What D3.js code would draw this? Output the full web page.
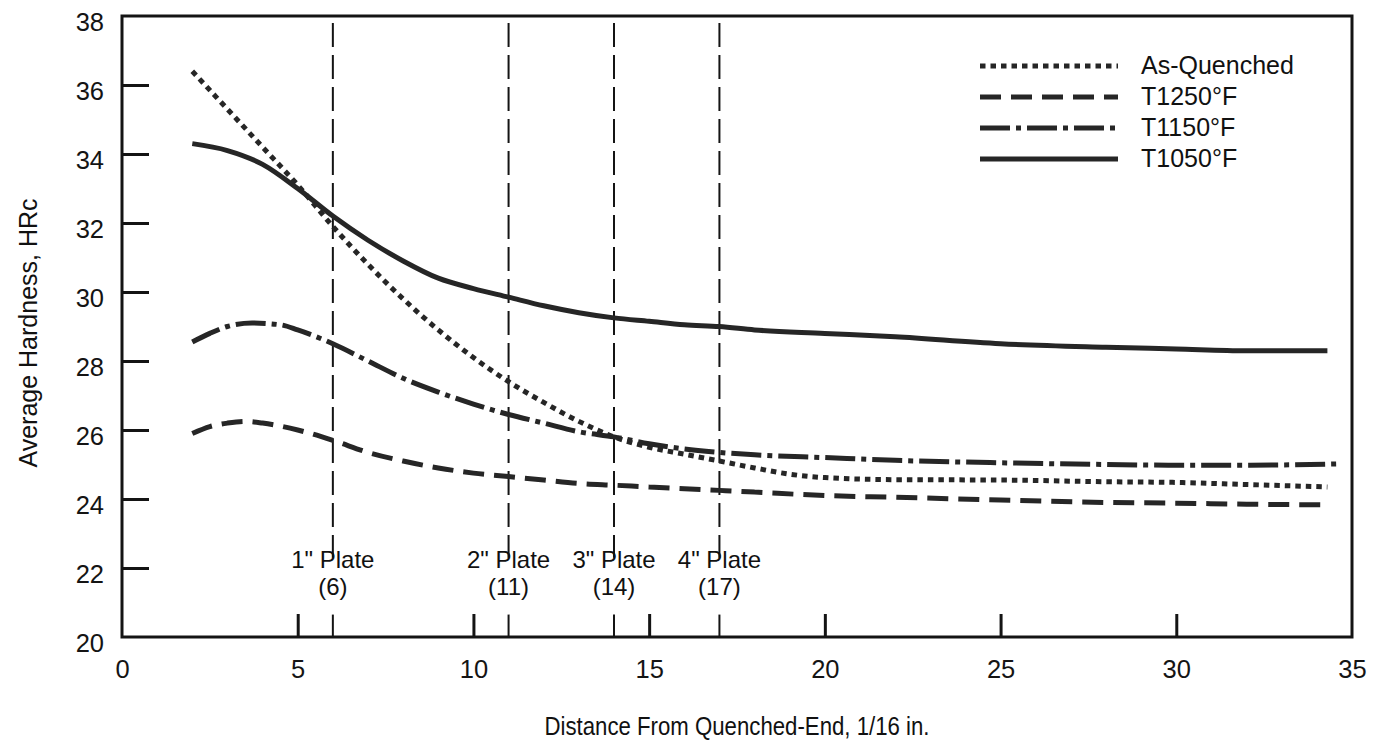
<!DOCTYPE html>
<html>
<head>
<meta charset="utf-8">
<script src="https://cdn.jsdelivr.net/npm/d3@7"></script>
<style>
  body { margin: 0; background: #fff; }
  svg { display: block; font-family: "Liberation Sans", Arial, Helvetica, sans-serif; }
  .lbl { fill: #111; }
</style>
</head>
<body>
<svg width="1378" height="744"></svg>
<script>
// hardness vs distance (1/16 in.)
const asQuenched = [[2, 36.4], [3, 35.3], [4, 34.2], [5, 33.1], [6, 31.9], [7, 30.8], [8, 29.8], [9, 28.9],
  [10, 28.1], [11, 27.4], [12, 26.8], [13, 26.25], [14, 25.8], [15, 25.5], [16, 25.3], [17, 25.1], [18, 24.9],
  [19, 24.72], [20, 24.62], [22, 24.56], [25, 24.55], [28, 24.5], [30, 24.48], [32, 24.42], [34.3, 24.35]];
const t1250 = [[2, 25.9], [2.5, 26.1], [3, 26.2], [3.5, 26.25], [4, 26.2], [5, 26.0], [6, 25.7], [7, 25.35],
  [8, 25.1], [9, 24.9], [10, 24.75], [11, 24.65], [12, 24.55], [13, 24.45], [14, 24.4], [15, 24.35], [16, 24.3],
  [17, 24.25], [18, 24.2], [20, 24.1], [22, 24.05], [25, 23.97], [28, 23.9], [30, 23.88], [32, 23.85], [34.3, 23.83]];
const t1150 = [[2, 28.55], [2.5, 28.8], [3, 29.0], [3.7, 29.1], [4.5, 29.05], [5, 28.9], [6, 28.5], [7, 28.0],
  [8, 27.5], [9, 27.1], [10, 26.75], [11, 26.45], [12, 26.2], [13, 25.95], [14, 25.8], [15, 25.6], [16, 25.45],
  [17, 25.35], [18, 25.28], [20, 25.2], [22, 25.12], [25, 25.05], [28, 25.0], [30, 24.98], [32, 24.98], [34.7, 25.02]];
const t1050 = [[2, 34.3], [3, 34.1], [4, 33.7], [5, 33.0], [6, 32.2], [7, 31.5], [8, 30.9], [9, 30.4], [10, 30.1],
  [11, 29.85], [12, 29.6], [13, 29.4], [14, 29.25], [15, 29.15], [16, 29.05], [17, 29.0], [18, 28.9], [20, 28.8],
  [22, 28.7], [25, 28.5], [28, 28.4], [30, 28.35], [32, 28.3], [34.3, 28.3]];

const seriesNames = ["As-Quenched", "T1250\u00b0F", "T1150\u00b0F", "T1050\u00b0F"];
const seriesData = [asQuenched, t1250, t1150, t1050];
const seriesDash = ["5.5,5", "21,10", "30,6,5,6", null];

const plates = [6, 11, 14, 17];
const plateLabels = ["1\" Plate", "2\" Plate", "3\" Plate", "4\" Plate"];
const xTicks = [0, 5, 10, 15, 20, 25, 30, 35];
const yTicks = [20, 22, 24, 26, 28, 30, 32, 34, 36, 38];

const svg = d3.select("svg");
const m = { left: 122, right: 1352, top: 16, bottom: 637 };
const x = d3.scaleLinear().domain([0, 35]).range([m.left, m.right]);
const y = d3.scaleLinear().domain([20, 38]).range([m.bottom, m.top]);
const ink = "#141414";

// plate marker lines
plates.forEach((p, i) => {
  svg.append("line")
    .attr("x1", x(p)).attr("x2", x(p))
    .attr("y1", y(37.8)).attr("y2", y(22.3))
    .attr("stroke", ink).attr("stroke-width", 2)
    .attr("stroke-dasharray", "24,8");
  svg.append("line")
    .attr("x1", x(p)).attr("x2", x(p))
    .attr("y1", y(20)).attr("y2", y(20.65))
    .attr("stroke", ink).attr("stroke-width", 2);
  svg.append("text").attr("class", "lbl")
    .attr("x", x(p)).attr("y", 568)
    .attr("text-anchor", "middle").attr("font-size", 24)
    .text(plateLabels[i]);
  svg.append("text").attr("class", "lbl")
    .attr("x", x(p)).attr("y", 595)
    .attr("text-anchor", "middle").attr("font-size", 24)
    .text("(" + p + ")");
});

// curves
const line = d3.line().x(d => x(d[0])).y(d => y(d[1])).curve(d3.curveMonotoneX);
seriesData.forEach((s, i) => {
  svg.append("path")
    .datum(s)
    .attr("fill", "none")
    .attr("stroke", "#262626")
    .attr("stroke-width", 5)
    .attr("stroke-dasharray", seriesDash[i])
    .attr("d", line);
});

// frame
svg.append("rect")
  .attr("x", m.left).attr("y", m.top)
  .attr("width", m.right - m.left).attr("height", m.bottom - m.top)
  .attr("fill", "none").attr("stroke", ink).attr("stroke-width", 3);

// axes
const xAxis = d3.axisBottom(x).tickValues(xTicks).tickSize(-23);
const gx = svg.append("g").attr("transform", `translate(0,${m.bottom})`).call(xAxis);
const yAxis = d3.axisLeft(y).tickValues(yTicks).tickSize(-27);
const gy = svg.append("g").attr("transform", `translate(${m.left},0)`).call(yAxis);
[gx, gy].forEach(g => {
  g.select(".domain").remove();
  g.selectAll(".tick line").attr("stroke", ink).attr("stroke-width", 3);
  g.selectAll(".tick text").attr("fill", ink).attr("font-size", 25.5)
    .attr("font-family", "'Liberation Sans', Arial, sans-serif");
});
gx.selectAll(".tick").filter(d => d === 0 || d === 35).select("line").remove();
gy.selectAll(".tick").filter(d => d === 20 || d === 38).select("line").remove();
gy.selectAll(".tick text").attr("x", -18).attr("y", 5).attr("dy", "0.36em");
gx.selectAll(".tick text").attr("y", 41).attr("dy", null);

// axis titles
svg.append("text").attr("class", "lbl")
  .attr("x", 737).attr("y", 735)
  .attr("text-anchor", "middle").attr("font-size", 25)
  .attr("textLength", 385).attr("lengthAdjust", "spacingAndGlyphs")
  .text("Distance From Quenched-End, 1/16 in.");
svg.append("text").attr("class", "lbl")
  .attr("transform", "translate(37,333) rotate(-90)")
  .attr("text-anchor", "middle").attr("font-size", 25)
  .text("Average Hardness, HRc");

// legend
const lg = svg.append("g").attr("transform", "translate(980,66)");
seriesNames.forEach((n, i) => {
  const row = lg.append("g").attr("transform", `translate(0,${i * 31})`);
  row.append("line")
    .attr("x1", 0).attr("x2", 138).attr("y1", 0).attr("y2", 0)
    .attr("stroke", "#262626").attr("stroke-width", 5)
    .attr("stroke-dasharray", seriesDash[i]);
  row.append("text").attr("class", "lbl")
    .attr("x", 161).attr("y", 8).attr("font-size", 25)
    .text(n);
});
</script>
</body>
</html>
